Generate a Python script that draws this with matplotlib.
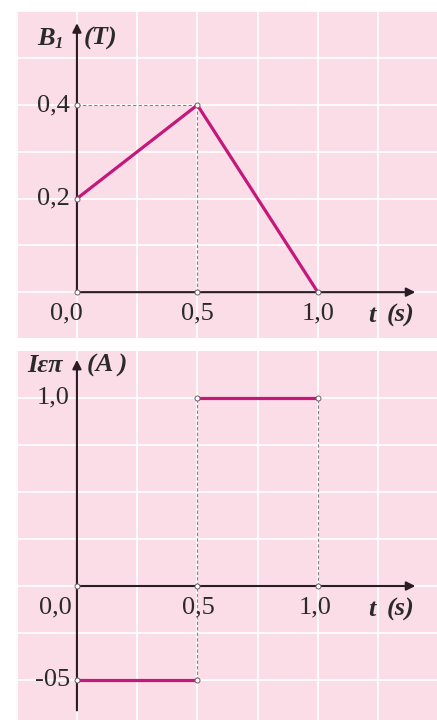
import numpy as np
import matplotlib
matplotlib.use("Agg")
import matplotlib.pyplot as plt

# magnetic field B1(t)
t_B = [0.0, 0.5, 1.0]
B1 = [0.2, 0.4, 0.0]

# induced current, piecewise constant
t_I = [[0.0, 0.5], [0.5, 1.0]]
I_ep = [-0.5, 1.0]

top_ticks_y = [0.2, 0.4]
top_labels_y = ["0,2", "0,4"]
t_ticks = [0.0, 0.5, 1.0]
t_labels = ["0,0", "0,5", "1,0"]
bot_ticks_y = [1.0, -0.5]
bot_labels_y = ["1,0", "-05"]

pink = "#fbdde8"
line_c = "#c4187b"
axis_c = "#2a1c24"
dash_c = "#8a8088"
serif = "Liberation Serif"

W, H = 437, 720
fig = plt.figure(figsize=(W / 100, H / 100), dpi=100)
fig.patch.set_facecolor("white")


def base_axes(rect, xlim, ylim, ystep):
    ax = fig.add_axes(rect)
    ax.set_facecolor(pink)
    ax.set_xlim(*xlim)
    ax.set_ylim(*ylim)
    for s in ax.spines.values():
        s.set_visible(False)
    ax.set_xticks([])
    ax.set_yticks([])
    for gx in np.arange(-0.25, 1.51, 0.25):
        ax.axvline(gx, color="white", lw=1.2, zorder=1)
    for gy in np.arange(-2, 2.01, ystep):
        ax.axhline(gy, color="white", lw=1.2, zorder=1)
    return ax


def marker(ax, xs, ys):
    ax.plot(xs, ys, "o", ms=3.6, mfc="white", mec="#6a6066", mew=0.7,
            zorder=6, ls="none")


def arrow(ax, start, tip):
    ax.annotate("", xy=tip, xytext=start,
                arrowprops=dict(arrowstyle="-|>", lw=1.5, color=axis_c,
                                mutation_scale=13, shrinkA=0, shrinkB=0),
                zorder=4)


tick_kw = dict(fontsize=19, family=serif, color="#2a2a2a")
lab_kw = dict(fontsize=19, family=serif, style="italic", weight="bold",
              color="#2a2a2a")

# ---- upper panel: B1 (T) ----
ax1 = base_axes([16 / W, (H - 338) / H, 1 - 16 / W, 327 / H],
                (-0.253, 1.495), (-0.098, 0.601), 0.1)
ax1.plot([0, t_B[1]], [B1[1], B1[1]], ls=(0, (3, 2)), lw=0.8, color=dash_c, zorder=2)
ax1.plot([t_B[1], t_B[1]], [0, B1[1]], ls=(0, (3, 2)), lw=0.8, color=dash_c, zorder=2)
arrow(ax1, (0, 0), (0, 0.575))
arrow(ax1, (0, 0), (1.405, 0))
ax1.plot(t_B, B1, color=line_c, lw=2.3, zorder=5, solid_capstyle="round")
marker(ax1, t_B + [0, 0.5, 0], B1 + [0, 0, 0.4])

for v, s in zip(top_ticks_y, top_labels_y):
    ax1.text(-0.03, v, s, ha="right", va="center", **tick_kw)
ax1.text(-0.045, -0.045, t_labels[0], ha="center", va="center", **tick_kw)
for v, s in zip(t_ticks[1:], t_labels[1:]):
    ax1.text(v, -0.045, s, ha="center", va="center", **tick_kw)
ax1.text(-0.09, 0.543, "B", ha="right", va="center", **lab_kw)
ax1.text(-0.092, 0.531, "1", ha="left", va="center", fontsize=12,
         family=serif, style="italic", weight="bold", color="#2a2a2a")
ax1.text(0.03, 0.543, "(T)", ha="left", va="center", **lab_kw)
ax1.text(1.225, -0.05, "t", ha="center", va="center", **lab_kw)
ax1.text(1.345, -0.05, "(s)", ha="center", va="center", **lab_kw)

# ---- lower panel: I (A) ----
ax2 = base_axes([16 / W, 0, 1 - 16 / W, (H - 351) / H],
                (-0.253, 1.495), (-0.711, 1.247), 0.25)
ax2.plot([0.5, 0.5], [I_ep[0], I_ep[1]], ls=(0, (3, 2)), lw=0.8, color=dash_c, zorder=2)
ax2.plot([1.0, 1.0], [0, I_ep[1]], ls=(0, (3, 2)), lw=0.8, color=dash_c, zorder=2)
arrow(ax2, (0, -0.66), (0, 1.2))
arrow(ax2, (0, 0), (1.405, 0))
for (x0, x1), v in zip(t_I, I_ep):
    ax2.plot([x0, x1], [v, v], color=line_c, lw=2.3, zorder=5)
marker(ax2, [0, 0.5, 1.0, 0.5, 1.0, 0.5, 0],
       [0, 0, 0, I_ep[1], I_ep[1], I_ep[0], I_ep[0]])

for v, s in zip(bot_ticks_y, bot_labels_y):
    ax2.text(-0.03, v, s, ha="right", va="center", **tick_kw)
ax2.text(-0.02, -0.115, t_labels[0], ha="right", va="center", **tick_kw)
ax2.text(0.505, -0.115, t_labels[1], ha="center", va="center", **tick_kw)
ax2.text(0.99, -0.115, t_labels[2], ha="center", va="center", **tick_kw)
ax2.text(-0.06, 1.17, "Iεπ", ha="right", va="center", **lab_kw)
ax2.text(0.04, 1.17, "(A )", ha="left", va="center", **lab_kw)
ax2.text(1.225, -0.125, "t", ha="center", va="center", **lab_kw)
ax2.text(1.345, -0.125, "(s)", ha="center", va="center", **lab_kw)

fig.savefig("out.png", dpi=100, facecolor="white")
